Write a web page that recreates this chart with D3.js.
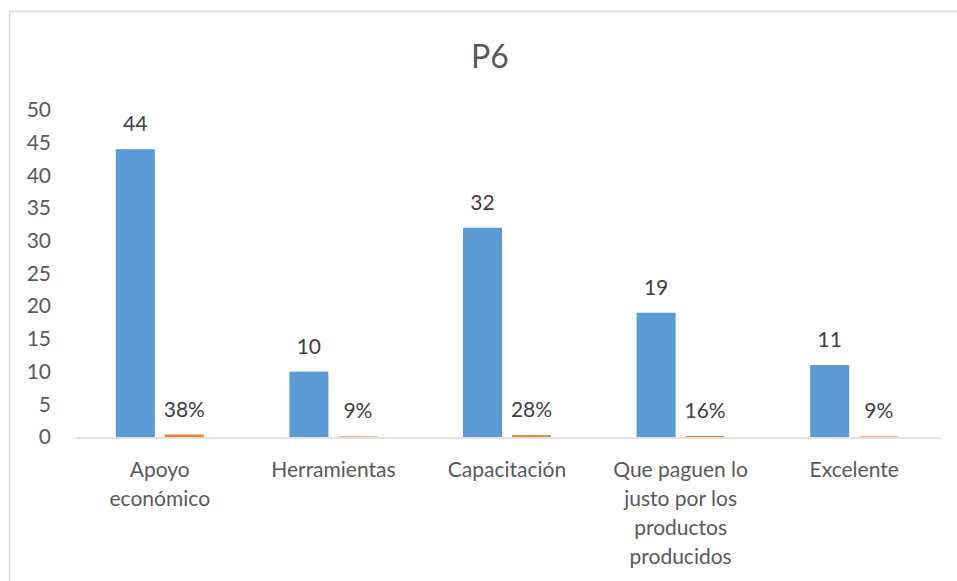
<!DOCTYPE html>
<html>
<head>
<meta charset="utf-8">
<script src="https://cdn.jsdelivr.net/npm/d3@7"></script>
<style>
  html, body { margin: 0; padding: 0; background: #fff; }
  svg { display: block; font-family: Lato, "Open Sans", sans-serif; }
</style>
</head>
<body>
<svg id="chart" width="957" height="581"></svg>
<script>
// P6 responses: counts and their share
const categories = [
  ["Apoyo", "económico"],
  ["Herramientas"],
  ["Capacitación"],
  ["Que paguen lo", "justo por los", "productos", "producidos"],
  ["Excelente"]
];
const counts = [44, 10, 32, 19, 11];
const shares = [0.38, 0.09, 0.28, 0.16, 0.09];
const yTicks = [0, 5, 10, 15, 20, 25, 30, 35, 40, 45, 50];
const title = "P6";

const svg = d3.select("#chart");
const textColor = "#595959";
const colors = { count: "#5B9BD5", share: "#ED7D31" };

// outer chart frame (runs past the right and bottom edges)
svg.append("rect")
  .attr("x", 9.5).attr("y", 11.5)
  .attr("width", 1000).attr("height", 700)
  .attr("fill", "#fff")
  .attr("stroke", "#D9D9D9").attr("stroke-width", 1.5);

svg.append("text")
  .attr("x", 490).attr("y", 68)
  .attr("text-anchor", "middle")
  .attr("font-size", 32)
  .attr("fill", textColor)
  .text(title);

const plot = { left: 73, right: 941, top: 110, bottom: 437 };

const keys = categories.map((c, i) => i);
const x = d3.scaleBand().domain(keys).range([plot.left, plot.right]).padding(0);
const sub = d3.scaleBand().domain(["count", "share"])
  .range([0, x.bandwidth()]).paddingInner(0.204).paddingOuter(0.873);
const y = d3.scaleLinear().domain([0, 50]).range([plot.bottom, plot.top]);

// y axis labels (no gridlines)
const yAxis = d3.axisLeft(y).tickValues(yTicks).tickSize(0).tickPadding(0);
const yg = svg.append("g").attr("transform", `translate(${plot.left - 22},0)`).call(yAxis);
yg.select(".domain").remove();
yg.selectAll("text")
  .attr("font-family", "Lato, 'Open Sans', sans-serif")
  .attr("font-size", 21)
  .attr("fill", textColor);

// series data
const rows = keys.map(i => ({ i, count: counts[i], share: shares[i] }));

const groups = svg.append("g").selectAll("g").data(rows).join("g")
  .attr("transform", d => `translate(${x(d.i)},0)`);

groups.selectAll("rect").data(d => [
    { key: "count", v: d.count },
    { key: "share", v: d.share }
  ]).join("rect")
  .attr("x", d => sub(d.key))
  .attr("width", sub.bandwidth())
  .attr("y", d => y(d.v))
  .attr("height", d => y(0) - y(d.v))
  .attr("fill", d => colors[d.key]);

const pct = d3.format(".0%");
groups.selectAll("text.val").data(d => [
    { key: "count", v: d.count, label: String(d.count) },
    { key: "share", v: d.share, label: pct(d.share) }
  ]).join("text")
  .attr("class", "val")
  .attr("x", d => sub(d.key) + sub.bandwidth() / 2)
  .attr("y", d => y(d.v) - 18)
  .attr("text-anchor", "middle")
  .attr("font-size", 21)
  .attr("fill", "#404040")
  .text(d => d.label);

// category axis line
const xAxis = d3.axisBottom(x).tickSize(0).tickFormat("");
const xg = svg.append("g").attr("transform", `translate(0,${plot.bottom + 0.5})`).call(xAxis);
xg.select(".domain").attr("stroke", "#D9D9D9").attr("stroke-width", 1.5);

// wrapped category labels
const cl = svg.append("g").selectAll("text").data(rows).join("text")
  .attr("x", d => x(d.i) + x.bandwidth() / 2)
  .attr("y", 477)
  .attr("text-anchor", "middle")
  .attr("font-size", 21)
  .attr("fill", textColor);
cl.selectAll("tspan").data(d => categories[d.i].map((t, j) => ({ t, j, cx: x(d.i) + x.bandwidth() / 2 })))
  .join("tspan")
  .attr("x", d => d.cx)
  .attr("dy", d => d.j === 0 ? 0 : 29)
  .text(d => d.t);
</script>
</body>
</html>
